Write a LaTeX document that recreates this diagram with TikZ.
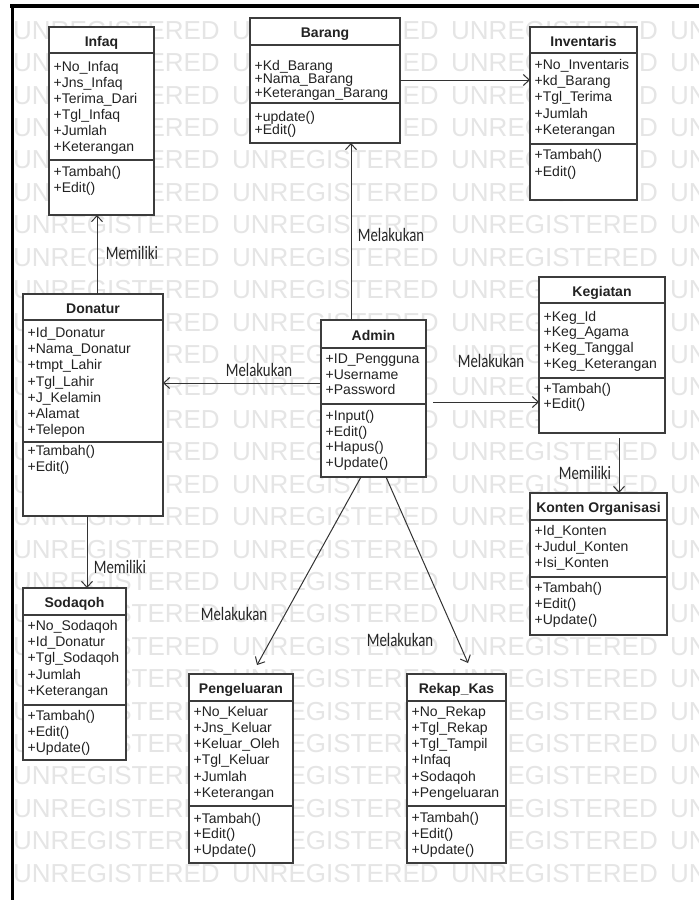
\documentclass[tikz,border=0pt]{standalone}
\usepackage{fontspec}
\setmainfont{Liberation Sans}
\newfontfamily\lblfont[FakeStretch=0.78]{Carlito}
\usetikzlibrary{arrows.meta}
\definecolor{boxline}{HTML}{3C3C3C}
\definecolor{txt}{HTML}{222222}
\tikzset{
  classrect/.style={draw=boxline, fill=white, line width=1.6pt, rectangle, inner sep=0pt, outer sep=0pt},
  classsep/.style={draw=boxline, line width=1.6pt},
  classtitle/.style={anchor=base, inner sep=0pt, text=txt, font=\fontsize{14}{16}\selectfont\bfseries},
  member/.style={anchor=base west, inner sep=0pt, text=txt, font=\fontsize{14}{16}\selectfont},
  conn/.style={draw=black!80, line width=1pt, -{Straight Barb[length=6pt,width=11pt]}},
  lbl/.style={inner sep=0pt, text=black!85, font=\lblfont\fontsize{19}{19}\selectfont},
  wm/.style={anchor=base west, inner sep=0pt, text=black!10, font=\fontsize{26}{26}\selectfont},
  framel/.style={draw=black, line cap=rect}
}
% name, x1, y1, x2, y2, header divider, attribute divider, title
\newcommand{\umlbox}[8]{%
  \node[classrect, minimum width={(#4-#2)*1pt}, minimum height={(#5-#3)*1pt}] (#1) at ({(#2+#4)/2*1pt},{-(#3+#5)/2*1pt}) {};
  \draw[classsep] (#2pt,-#6pt) -- (#4pt,-#6pt);
  \draw[classsep] (#2pt,-#7pt) -- (#4pt,-#7pt);
  \node[classtitle] (#1-title) at ({(#2+#4)/2*1pt},{-((#3+#6)/2+6)*1pt}) {#8};
}
% name prefix, left x, first baseline, spacing, list
\newcommand{\umlmembers}[5]{%
  \foreach \mtext [count=\mi] in {#5} {
    \node[member] (#1-\mi) at ({(#2+4.5)*1pt},{-(#3+(\mi-1)*#4)*1pt}) {\mtext};
  }
}
\begin{document}
\begin{tikzpicture}
\useasboundingbox (0,0) rectangle (699pt,-900pt);
\fill[white] (0,0) rectangle (699pt,-900pt);

% watermark
\begin{scope}
  \clip (13.5pt,-8pt) rectangle (699pt,-900pt);
  \foreach \r in {0,...,26} {
    \foreach \c in {0,...,2} {
      \node[wm] (wm-\r-\c) at ({(13+219*\c)*1pt},{-(39.3+32.42*\r)*1pt}) {UNREGISTERED};
    }
    \node[wm] (wm-\r-3) at (670pt,{-(39.3+32.42*\r)*1pt}) {UN};
  }
\end{scope}

% frame
\draw[framel, line width=4pt] (12pt,-5.5pt) -- (699pt,-5.5pt);
\draw[framel, line width=3pt] (12pt,-5.5pt) -- (12pt,-900pt);

% classes
\umlbox{Infaq}{49}{27}{154}{215}{53}{160}{Infaq}
\umlmembers{Infaq-a}{49}{71}{16}{+No\_Infaq,+Jns\_Infaq,+Terima\_Dari,+Tgl\_Infaq,+Jumlah,+Keterangan}
\umlmembers{Infaq-m}{49}{176}{16}{+Tambah(),+Edit()}

\umlbox{Barang}{250}{18}{400}{143}{45}{103}{Barang}
\umlmembers{Barang-a}{250}{70}{13.5}{+Kd\_Barang,+Nama\_Barang,+Keterangan\_Barang}
\umlmembers{Barang-m}{250}{121}{13.5}{+update(),+Edit()}

\umlbox{Inventaris}{530}{27}{637}{200}{53}{144}{Inventaris}
\umlmembers{Inventaris-a}{530}{69.5}{16.2}{+No\_Inventaris,+kd\_Barang,+Tgl\_Terima,+Jumlah,+Keterangan}
\umlmembers{Inventaris-m}{530}{159.5}{16.5}{+Tambah(),+Edit()}

\umlbox{Donatur}{23}{294}{163}{516}{320}{442}{Donatur}
\umlmembers{Donatur-a}{23}{337.7}{16.1}{+Id\_Donatur,+Nama\_Donatur,+tmpt\_Lahir,+Tgl\_Lahir,+J\_Kelamin,+Alamat,+Telepon}
\umlmembers{Donatur-m}{23}{455}{16}{+Tambah(),+Edit()}

\umlbox{Admin}{321}{320}{426}{477}{348}{404}{Admin}
\umlmembers{Admin-a}{321}{363.5}{15.5}{+ID\_Pengguna,+Username,+Password}
\umlmembers{Admin-m}{321}{420.7}{15.6}{+Input(),+Edit(),+Hapus(),+Update()}

\umlbox{Kegiatan}{539}{277}{665}{433}{303}{378}{Kegiatan}
\umlmembers{Kegiatan-a}{539}{321}{15.8}{+Keg\_Id,+Keg\_Agama,+Keg\_Tanggal,+Keg\_Keterangan}
\umlmembers{Kegiatan-m}{539}{393.3}{15.4}{+Tambah(),+Edit()}

\umlbox{Konten}{530}{493}{667}{635}{520}{577}{Konten Organisasi}
\umlmembers{Konten-a}{530}{535.7}{15.8}{+Id\_Konten,+Judul\_Konten,+Isi\_Konten}
\umlmembers{Konten-m}{530}{592.3}{15.9}{+Tambah(),+Edit(),+Update()}

\umlbox{Sodaqoh}{23}{588}{126}{760}{615}{705}{Sodaqoh}
\umlmembers{Sodaqoh-a}{23}{630.7}{16.1}{+No\_Sodaqoh,+Id\_Donatur,+Tgl\_Sodaqoh,+Jumlah,+Keterangan}
\umlmembers{Sodaqoh-m}{23}{720.7}{15.8}{+Tambah(),+Edit(),+Update()}

\umlbox{Pengeluaran}{189}{674}{293}{863}{701}{806}{Pengeluaran}
\umlmembers{Pengeluaran-a}{189}{716.3}{16.2}{+No\_Keluar,+Jns\_Keluar,+Keluar\_Oleh,+Tgl\_Keluar,+Jumlah,+Keterangan}
\umlmembers{Pengeluaran-m}{189}{823}{15.5}{+Tambah(),+Edit(),+Update()}

\umlbox{RekapKas}{407}{674}{506}{863}{701}{806}{Rekap\_Kas}
\umlmembers{RekapKas-a}{407}{716.3}{16.2}{+No\_Rekap,+Tgl\_Rekap,+Tgl\_Tampil,+Infaq,+Sodaqoh,+Pengeluaran}
\umlmembers{RekapKas-m}{407}{822.7}{15.8}{+Tambah(),+Edit(),+Update()}

% connector guide coordinates
\coordinate (xInfDon) at (97pt,0);
\coordinate (xAdmBar) at (351pt,0);
\coordinate (yBarInv) at (0,-80pt);
\coordinate (yAdmDon) at (0,-383pt);
\coordinate (yAdmKeg) at (0,-402pt);
\coordinate (xKegKon) at (619pt,0);
\coordinate (xDonSod) at (87pt,0);
\coordinate (xAdmPg) at (361pt,0);
\coordinate (xAdmRk) at (386pt,0);
\coordinate (pgEnd) at (257pt,-665pt);
\coordinate (rkEnd) at (468pt,-663pt);

% connectors
\draw[conn] (Donatur.north -| xInfDon) -- (Infaq.south -| xInfDon);
\draw[conn] (Admin.north -| xAdmBar) -- (Barang.south -| xAdmBar);
\draw[conn] (Barang.east |- yBarInv) -- (Inventaris.west |- yBarInv);
\draw[conn] (Admin.west |- yAdmDon) -- (Donatur.east |- yAdmDon);
\draw[conn, shorten <=7pt] (Admin.east |- yAdmKeg) -- (Kegiatan.west |- yAdmKeg);
\draw[conn, shorten <=5pt] (Kegiatan.south -| xKegKon) -- (Konten.north -| xKegKon);
\draw[conn] (Donatur.south -| xDonSod) -- (Sodaqoh.north -| xDonSod);
\draw[conn] (Admin.south -| xAdmPg) -- (pgEnd);
\draw[conn] (Admin.south -| xAdmRk) -- (rkEnd);

% labels
\node[lbl] (lbInfDon) at (132pt,-253pt) {Memiliki};
\node[lbl] (lbAdmBar) at (391pt,-235pt) {Melakukan};
\node[lbl] (lbAdmDon) at (259pt,-370pt) {Melakukan};
\node[lbl] (lbAdmKeg) at (491pt,-361pt) {Melakukan};
\node[lbl] (lbKegKon) at (585pt,-473pt) {Memiliki};
\node[lbl] (lbDonSod) at (120pt,-567pt) {Memiliki};
\node[lbl] (lbAdmPg) at (234pt,-614pt) {Melakukan};
\node[lbl] (lbAdmRk) at (400pt,-640pt) {Melakukan};
\end{tikzpicture}
\end{document}
